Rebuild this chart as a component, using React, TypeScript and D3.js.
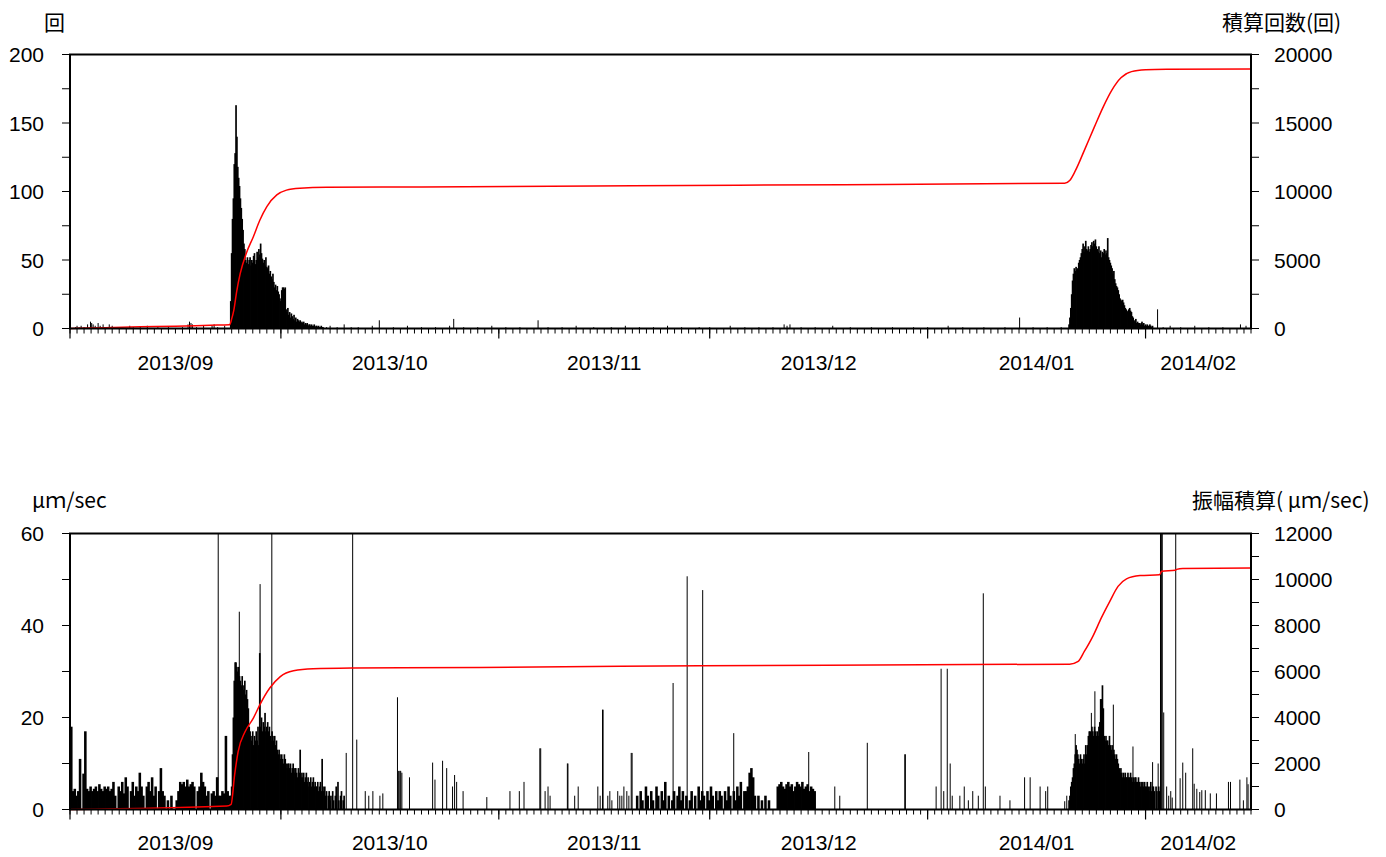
import React from "react";
import * as d3 from "d3";

// ---------- time axis ----------
const startDate = "2013-09-01T00";
const endDate = "2014-02-16T00";
const monthLabels = ["2013/09", "2013/10", "2013/11", "2013/12", "2014/01", "2014/02"];

// ---------- top panel: event counts (回) ----------
const countTicks = [0, 50, 100, 150, 200];
const countCumTicks = [0, 5000, 10000, 15000, 20000];

const countSwarm1Start = "2013-09-23T18";
const countSwarm1 = [
  20, 55,
  80, 95, 120, 128,
  163, 140, 118, 110,
  104, 95, 88, 80,
  72, 62, 58, 50,
  48, 52, 47, 50,
  52, 46, 50, 48,
  53, 55, 47, 50,
  56, 52, 58, 54,
  62, 55, 51, 48,
  50, 46, 52, 45,
  44, 46, 40, 42,
  38, 36, 40, 34,
  30, 32, 28, 31,
  27, 25, 22, 20,
  28, 30, 30, 29,
  30, 14, 12, 15,
  10, 12, 8, 11,
  9, 7, 10, 6,
  8, 5, 7, 6,
  5, 6, 4, 5,
  4, 5, 3, 4,
  3, 4, 2, 3,
  3, 2, 3, 2,
  2, 3, 1, 2,
  2, 1, 2, 1,
  1, 2, 1, 1,
];

const countSwarm2Start = "2014-01-21T00";
const countSwarm2 = [
  3, 8, 15, 25,
  35, 40, 44, 42,
  45, 43, 44, 48,
  50, 52, 55, 58,
  62, 56, 60, 64,
  58, 57, 60, 56,
  58, 61, 63, 60,
  64, 62, 65, 60,
  58, 56, 60, 55,
  57, 52, 56, 55,
  58, 54, 57, 55,
  66, 52, 50, 48,
  46, 44, 40, 42,
  36, 33, 31, 30,
  28, 25, 22, 21,
  20, 21, 19, 17,
  15, 14, 12, 13,
  14, 15, 13, 12,
  9, 8, 6, 5,
  7, 4, 5, 4,
  4, 3, 4, 5,
  3, 4, 2, 3,
  2, 3, 2, 2,
  3, 2, 1, 2,
];

const countSparse: [string, number][] = [
  ["2013-09-01T19", 1], ["2013-09-02T00", 2], ["2013-09-02T07", 1], ["2013-09-02T14", 2],
  ["2013-09-03T00", 1], ["2013-09-03T12", 3], ["2013-09-03T22", 5], ["2013-09-04T02", 4],
  ["2013-09-04T07", 3], ["2013-09-04T14", 2], ["2013-09-05T00", 4], ["2013-09-05T07", 2],
  ["2013-09-05T17", 3], ["2013-09-06T00", 1], ["2013-09-06T14", 3], ["2013-09-07T00", 2],
  ["2013-09-07T12", 1], ["2013-09-08T12", 1], ["2013-09-09T12", 2], ["2013-09-10T00", 1],
  ["2013-09-11T00", 1], ["2013-09-12T00", 2], ["2013-09-13T12", 1], ["2013-09-15T00", 1],
  ["2013-09-17T00", 1], ["2013-09-17T19", 3], ["2013-09-18T00", 5], ["2013-09-18T05", 4],
  ["2013-09-18T10", 3], ["2013-09-19T00", 1], ["2013-09-20T00", 2], ["2013-09-21T05", 2],
  ["2013-09-21T12", 3], ["2013-09-22T00", 1], ["2013-09-23T00", 2],
  ["2013-10-07T12", 1], ["2013-10-08T00", 2], ["2013-10-09T00", 1], ["2013-10-10T00", 3],
  ["2013-10-11T00", 1], ["2013-10-12T00", 1], ["2013-10-14T00", 2], ["2013-10-15T00", 6],
  ["2013-10-17T00", 1], ["2013-10-19T00", 2], ["2013-10-21T00", 1], ["2013-10-23T00", 1],
  ["2013-10-25T00", 2], ["2013-10-25T14", 7], ["2013-10-27T00", 1], ["2013-10-29T00", 1],
  ["2013-10-31T00", 2], ["2013-11-02T00", 1], ["2013-11-04T00", 1], ["2013-11-06T14", 6],
  ["2013-11-08T00", 1], ["2013-11-10T00", 1], ["2013-11-12T00", 2], ["2013-11-14T12", 1],
  ["2013-11-17T00", 1], ["2013-11-19T00", 2], ["2013-11-21T00", 1], ["2013-11-23T00", 1],
  ["2013-11-25T00", 2], ["2013-11-27T00", 1], ["2013-11-29T12", 1], ["2013-12-01T00", 1],
  ["2013-12-03T22", 2], ["2013-12-06T00", 1], ["2013-12-08T00", 1], ["2013-12-10T00", 1],
  ["2013-12-11T14", 3], ["2013-12-12T00", 2], ["2013-12-12T10", 3], ["2013-12-14T00", 1],
  ["2013-12-16T00", 1], ["2013-12-18T12", 2], ["2013-12-21T00", 1], ["2013-12-24T00", 1],
  ["2013-12-27T00", 1], ["2013-12-30T00", 1], ["2014-01-01T00", 1], ["2014-01-03T22", 2],
  ["2014-01-06T00", 1], ["2014-01-09T00", 1], ["2014-01-12T00", 1], ["2014-01-14T02", 8],
  ["2014-01-16T00", 1], ["2014-01-18T00", 1], ["2014-01-20T00", 1],
  ["2014-02-02T17", 14], ["2014-02-03T12", 1], ["2014-02-04T12", 2], ["2014-02-06T00", 1],
  ["2014-02-08T00", 2], ["2014-02-10T00", 1], ["2014-02-12T00", 1], ["2014-02-14T12", 3],
  ["2014-02-15T07", 2],
];

const countCumulative: [string, number][] = [
  ["2013-09-01T00", 0], ["2013-09-06T00", 60], ["2013-09-11T00", 120], ["2013-09-16T00", 160],
  ["2013-09-21T00", 240], ["2013-09-23T17", 280], ["2013-09-24T00", 700], ["2013-09-24T07", 1300],
  ["2013-09-24T17", 2700], ["2013-09-25T05", 4000], ["2013-09-26T02", 5500], ["2013-09-27T02", 6700],
  ["2013-09-28T00", 7900], ["2013-09-29T00", 8900], ["2013-09-30T10", 9750], ["2013-10-01T19", 10100],
  ["2013-10-03T17", 10240], ["2013-10-07T12", 10310], ["2013-10-21T00", 10330], ["2013-11-20T00", 10420],
  ["2013-12-20T00", 10500], ["2014-01-20T12", 10600], ["2014-01-21T05", 10800], ["2014-01-22T00", 11500],
  ["2014-01-23T07", 13000], ["2014-01-24T17", 14700], ["2014-01-26T00", 16200], ["2014-01-27T05", 17400],
  ["2014-01-28T12", 18300], ["2014-01-30T00", 18750], ["2014-02-01T00", 18880], ["2014-02-04T00", 18920],
  ["2014-02-16T00", 18950],
];

// ---------- bottom panel: amplitude (μm/sec) ----------
const ampTicks = [0, 20, 40, 60];
const ampCumTicks = [0, 2000, 4000, 6000, 8000, 10000, 12000];

const ampPreStart = "2013-09-01T00";
const ampPre = [
  18, 4, 4.5, 3,
  4, 11, 0, 7.8,
  17, 4.5, 4, 5,
  4, 4.5, 5, 4,
  5.5, 4.5, 4, 5,
  4.5, 5, 4, 4.5,
  6, 3, 0, 5,
  4, 6, 3.5, 7,
  5, 0, 4, 6,
  3, 5, 4, 8,
  5, 3, 0, 5,
  6, 4, 7, 3,
  5, 0, 4, 9,
  4, 3, 0, 2,
  0, 3, 0, 0,
  2, 4, 6, 5.5,
  6, 5, 6.5, 5,
  5.5, 6, 5, 0,
  4, 5, 8, 6,
  5, 3, 4, 0,
  3.5, 4, 3, 7,
  3, 3, 4, 3.5,
  16, 4, 3,
];

const ampSwarm1Start = "2013-09-23T18";
const ampSwarm1 = [
  3, 5,
  12, 20, 28, 32,
  32, 31, 30, 31,
  29, 28, 27, 29,
  27, 26, 28, 25,
  26, 24, 22, 18,
  17, 16, 15, 17,
  14, 16, 15, 17,
  15, 18, 14, 34,
  18, 20, 17, 19, 18, 21, 17, 18,
  19, 17, 18, 16, 15, 17, 16, 15,
  16, 14, 15, 13, 12, 13, 12, 11,
  12, 11, 10, 12, 11, 10, 9, 10,
  10, 9, 10, 8, 9, 10, 8, 9,
  9, 8, 7, 9, 8, 13, 7, 8,
  7, 8, 6, 7, 8, 6, 7, 5,
  6, 7, 5, 6, 7, 5, 6, 5,
  5, 6, 4, 5, 6, 4, 11, 5,
  4, 5, 3, 4, 0, 3, 4, 2,
  3, 0, 4, 2, 0, 3, 5, 0,
  6, 2, 0, 3, 4, 0, 2, 3,
];

const ampNovStart = "2013-11-20T12";
const ampNov = [
  3, 0,
  4, 2, 0, 5,
  3, 0, 4, 2,
  0, 5, 3, 0,
  4, 2, 6, 0,
  3, 0, 2, 4,
  0, 3, 5, 2,
  4, 0, 3, 0,
  2, 4, 0, 3,
  0, 5, 2, 4,
  3, 0, 4, 2,
  5, 3, 0, 4,
  2, 4, 3, 0,
  4, 2, 5, 3,
  0, 4, 2, 5,
  3, 6, 0, 4,
  4, 5, 8, 9,
  7, 3, 0, 3,
  0, 2, 0, 3,
  0, 2,
];

const ampDecStart = "2013-12-10T12";
const ampDec = [
  5, 5.5, 6, 5, 4.5, 5.5, 6, 5, 5.5, 4, 5, 6, 5.5, 5, 6, 4.5, 5, 5.5, 4, 5, 4.5, 4,
];

const ampSwarm2Start = "2014-01-21T00";
const ampSwarm2 = [
  2, 3, 5, 6,
  7, 9, 10, 12,
  14, 13, 12, 11,
  10, 12, 11, 10,
  11, 12, 10, 14,
  12, 14, 16, 17,
  17, 16, 18, 17,
  16, 18, 17, 16,
  17, 16, 18, 19,
  24, 24, 27, 22,
  16, 15, 16, 15,
  15, 14, 16, 14,
  13, 14, 12, 13,
  12, 11, 12, 11,
  10, 9, 8, 9,
  8, 7, 8, 7,
  8, 7, 7, 8, 7, 7, 8, 7,
  6, 7, 6, 7, 7, 6, 6, 7,
  6, 5, 6, 5, 6, 5, 6, 5,
  5, 6, 5, 4, 5, 6, 4, 5,
  5, 4, 0, 5, 4, 0, 5, 4,
];

const ampSparse: [string, number][] = [
  ["2013-09-21T22", 7], ["2013-09-22T02", 65], ["2013-09-25T02", 43], ["2013-09-28T01", 49],
  ["2013-09-29T17", 65], ["2013-10-10T07", 12.3], ["2013-10-11T05", 65], ["2013-10-11T19", 15.2],
  ["2013-10-13T00", 4], ["2013-10-13T12", 3], ["2013-10-14T02", 4], ["2013-10-15T02", 3],
  ["2013-10-15T12", 3.5], ["2013-10-17T14", 24.4], ["2013-10-17T18", 8.4], ["2013-10-17T22", 8.4],
  ["2013-10-18T01", 8.4], ["2013-10-18T05", 8], ["2013-10-19T07", 7], ["2013-10-22T14", 10.2],
  ["2013-10-22T22", 6.5], ["2013-10-24T00", 10.6], ["2013-10-24T14", 9], ["2013-10-25T10", 5],
  ["2013-10-25T17", 7.5], ["2013-10-26T00", 6], ["2013-10-26T22", 4], ["2013-10-30T07", 2.7],
  ["2013-11-02T14", 4], ["2013-11-03T22", 4], ["2013-11-04T14", 6], ["2013-11-06T20", 13.3],
  ["2013-11-06T23", 13.3], ["2013-11-07T14", 4], ["2013-11-08T00", 5], ["2013-11-08T07", 3],
  ["2013-11-10T18", 10], ["2013-11-10T20", 10], ["2013-11-11T19", 3], ["2013-11-12T07", 5],
  ["2013-11-15T02", 5], ["2013-11-15T10", 3], ["2013-11-15T18", 21.7], ["2013-11-15T20", 21.7],
  ["2013-11-16T12", 3], ["2013-11-16T19", 4], ["2013-11-17T02", 2], ["2013-11-17T22", 4],
  ["2013-11-18T05", 3], ["2013-11-18T12", 3], ["2013-11-18T19", 5], ["2013-11-19T05", 4],
  ["2013-11-19T12", 3], ["2013-11-19T20", 12.3], ["2013-11-19T23", 12.3], ["2013-11-25T19", 27.5],
  ["2013-11-27T19", 50.7], ["2013-11-30T00", 47.7], ["2013-12-04T10", 16.6], ["2013-12-15T02", 12.5],
  ["2013-12-18T19", 5], ["2013-12-19T12", 3], ["2013-12-23T10", 14.5], ["2013-12-28T18", 12],
  ["2013-12-28T20", 12], ["2014-01-02T05", 5], ["2014-01-02T22", 30.6], ["2014-01-03T07", 4],
  ["2014-01-03T19", 30.6], ["2014-01-04T05", 10], ["2014-01-04T12", 3], ["2014-01-05T14", 3],
  ["2014-01-06T05", 5], ["2014-01-06T19", 2], ["2014-01-07T10", 4], ["2014-01-08T05", 3],
  ["2014-01-08T22", 47], ["2014-01-09T05", 5], ["2014-01-11T07", 3], ["2014-01-12T17", 2],
  ["2014-01-14T19", 7], ["2014-01-15T14", 7], ["2014-01-17T00", 5], ["2014-01-17T19", 4],
  ["2014-01-18T02", 5], ["2014-01-20T12", 1.8], ["2014-01-20T19", 3],
  ["2014-01-22T00", 16.4], ["2014-01-24T07", 21], ["2014-01-24T19", 25.7], ["2014-01-27T10", 22.8],
  ["2014-01-30T05", 13.7], ["2014-02-02T00", 10.3], ["2014-02-02T19", 10],
  ["2014-02-03T03", 65], ["2014-02-03T06", 65], ["2014-02-03T09", 65], ["2014-02-03T14", 21.1],
  ["2014-02-04T00", 5], ["2014-02-04T07", 3], ["2014-02-04T14", 4], ["2014-02-04T19", 2.6],
  ["2014-02-05T07", 65], ["2014-02-05T22", 6.8], ["2014-02-06T07", 10.2], ["2014-02-06T17", 8],
  ["2014-02-07T17", 13.3], ["2014-02-07T22", 5.6], ["2014-02-08T07", 4.5], ["2014-02-08T17", 3.8],
  ["2014-02-09T00", 4.2], ["2014-02-09T12", 4.2], ["2014-02-10T05", 3.5], ["2014-02-11T02", 3.5],
  ["2014-02-12T19", 6], ["2014-02-13T02", 6], ["2014-02-14T10", 6.5], ["2014-02-14T22", 2],
  ["2014-02-15T10", 7], ["2014-02-15T14", 5.5], ["2014-02-15T22", 6],
];

const ampCumulative: [string, number][] = [
  ["2013-09-01T00", 0], ["2013-09-23T07", 150], ["2013-09-23T22", 225], ["2013-09-24T10", 1500],
  ["2013-09-24T22", 2520], ["2013-09-25T22", 3390], ["2013-09-27T02", 3970], ["2013-09-28T00", 4550],
  ["2013-09-29T10", 5280], ["2013-09-30T22", 5780], ["2013-10-02T19", 6030], ["2013-10-05T14", 6120],
  ["2013-10-11T07", 6150], ["2013-10-29T07", 6175], ["2013-11-29T14", 6250], ["2014-01-21T05", 6320],
  ["2014-01-22T10", 6440], ["2014-01-23T07", 6870], ["2014-01-24T12", 7530], ["2014-01-25T17", 8330],
  ["2014-01-26T22", 9050], ["2014-01-28T02", 9700], ["2014-01-29T07", 10030], ["2014-01-31T05", 10170],
  ["2014-02-03T00", 10210], ["2014-02-03T07", 10360], ["2014-02-05T05", 10400], ["2014-02-05T10", 10440],
  ["2014-02-06T07", 10480], ["2014-02-16T00", 10500],
];

// ---------- drawing ----------
const parse = d3.utcParse("%Y-%m-%dT%H");
const T0 = parse(startDate) as Date;
const T1 = parse(endDate) as Date;
const X0 = 70;
const X1 = 1251;
const NUM_FONT = "'Liberation Sans', Arial, sans-serif";
const CJK_FONT = "'Noto Sans CJK JP', 'Noto Sans CJK SC', sans-serif";
const FS = 21;

type Seg = { start: string; stepHours: number; values: number[] };

interface PanelProps {
  y0: number;
  y1: number;
  yMax: number;
  yTicks: number[];
  yMinor: number;
  cMax: number;
  cTicks: number[];
  cMinor: number;
  segs: Seg[];
  spikes: [string, number][];
  cum: [string, number][];
  leftTitle: string;
  leftTitleX: number;
  rightTitle: string;
  rightTitleX: number;
  titleY: number;
  monthY: number;
}

function Panel(p: PanelProps) {
  const x = d3.scaleUtc().domain([T0, T1]).range([X0, X1]);
  const y = d3.scaleLinear().domain([0, p.yMax]).range([p.y0, p.y1]);
  const yc = d3.scaleLinear().domain([0, p.cMax]).range([p.y0, p.y1]);
  const hourPx = (X1 - X0) / ((+T1 - +T0) / 3.6e6);

  const bars: { x: number; w: number; v: number }[] = [];
  p.segs.forEach((s) => {
    const t0 = parse(s.start) as Date;
    s.values.forEach((v, i) => {
      if (v > 0) {
        const t = d3.utcHour.offset(t0, i * s.stepHours);
        bars.push({ x: x(t), w: s.stepHours * hourPx + 0.8, v });
      }
    });
  });
  p.spikes.forEach(([d, v]) => {
    bars.push({ x: x(parse(d) as Date) - 0.5, w: 1, v });
  });

  const line = d3
    .line<[string, number]>()
    .x((d) => x(parse(d[0]) as Date))
    .y((d) => yc(d[1]))
    .curve(d3.curveMonotoneX);

  const days = d3.utcDay.range(T0, d3.utcDay.offset(T1, 1));
  const months = d3.utcMonth.range(T0, T1);

  const yMinorTicks = d3.range(0, p.yMax + 0.001, p.yMinor);
  const cMinorTicks = d3.range(0, p.cMax + 0.001, p.cMinor);

  return (
    <g>
      {bars.map((b, i) => {
        const top = y(Math.min(b.v, p.yMax));
        return (
          <rect key={i} x={b.x} y={top} width={b.w} height={p.y0 - top} fill="#000" />
        );
      })}
      <path d={line(p.cum) || ""} fill="none" stroke="#ff0000" strokeWidth={1.5} />
      <rect x={X0} y={p.y1} width={X1 - X0} height={p.y0 - p.y1} fill="none" stroke="#000" strokeWidth={2} />
      {days.map((d, i) => (
        <line key={"d" + i} x1={x(d)} x2={x(d)} y1={p.y0} y2={p.y0 + 5} stroke="#000" strokeWidth={1} />
      ))}
      {months.map((m, i) => (
        <line key={"m" + i} x1={x(m)} x2={x(m)} y1={p.y0} y2={p.y0 + 10} stroke="#000" strokeWidth={1.2} />
      ))}
      {months.map((m, i) => {
        const a = x(m < T0 ? T0 : m);
        const nm = d3.utcMonth.offset(m, 1);
        const b = x(nm > T1 ? T1 : nm);
        return (
          <text key={"ml" + i} x={(a + b) / 2} y={p.monthY} textAnchor="middle" fontFamily={NUM_FONT} fontSize={FS} fill="#000">
            {monthLabels[i]}
          </text>
        );
      })}
      {yMinorTicks.map((v, i) => (
        <line key={"yl" + i} x1={X0 - 8} x2={X0} y1={y(v)} y2={y(v)} stroke="#000" strokeWidth={1} />
      ))}
      {p.yTicks.map((v, i) => (
        <text key={"yt" + i} x={44} y={y(v) + 7.5} textAnchor="end" fontFamily={NUM_FONT} fontSize={FS} fill="#000">
          {v}
        </text>
      ))}
      {cMinorTicks.map((v, i) => (
        <line key={"cl" + i} x1={X1} x2={X1 + 8} y1={yc(v)} y2={yc(v)} stroke="#000" strokeWidth={1} />
      ))}
      {p.cTicks.map((v, i) => (
        <text key={"ct" + i} x={1274} y={yc(v) + 7.5} textAnchor="start" fontFamily={NUM_FONT} fontSize={FS} fill="#000">
          {v}
        </text>
      ))}
      <text x={p.leftTitleX} y={p.titleY} fontFamily={CJK_FONT} fontSize={FS} fill="#000">
        {p.leftTitle}
      </text>
      <text x={p.rightTitleX} y={p.titleY} fontFamily={CJK_FONT} fontSize={FS} fill="#000">
        {p.rightTitle}
      </text>
    </g>
  );
}

export default function App() {
  return (
    <svg
      width={1386}
      height={857}
      viewBox="0 0 1386 857"
      style={{ position: "absolute", left: 0, top: 0, background: "#fff" }}
    >
      <rect x={0} y={0} width={1386} height={857} fill="#fff" />
      <Panel
        y0={328.5}
        y1={54.5}
        yMax={200}
        yTicks={countTicks}
        yMinor={25}
        cMax={20000}
        cTicks={countCumTicks}
        cMinor={2500}
        segs={[
          { start: countSwarm1Start, stepHours: 3, values: countSwarm1 },
          { start: countSwarm2Start, stepHours: 3, values: countSwarm2 },
        ]}
        spikes={countSparse}
        cum={countCumulative}
        leftTitle="回"
        leftTitleX={44}
        rightTitle="積算回数(回)"
        rightTitleX={1222}
        titleY={29.5}
        monthY={369.5}
      />
      <Panel
        y0={809.5}
        y1={533.5}
        yMax={60}
        yTicks={ampTicks}
        yMinor={10}
        cMax={12000}
        cTicks={ampCumTicks}
        cMinor={1000}
        segs={[
          { start: ampPreStart, stepHours: 6, values: ampPre },
          { start: ampSwarm1Start, stepHours: 3, values: ampSwarm1 },
          { start: ampNovStart, stepHours: 6, values: ampNov },
          { start: ampDecStart, stepHours: 6, values: ampDec },
          { start: ampSwarm2Start, stepHours: 3, values: ampSwarm2 },
        ]}
        spikes={ampSparse}
        cum={ampCumulative}
        leftTitle="μｍ/sec"
        leftTitleX={32}
        rightTitle="振幅積算( μｍ/sec)"
        rightTitleX={1192}
        titleY={508}
        monthY={849.5}
      />
    </svg>
  );
}
